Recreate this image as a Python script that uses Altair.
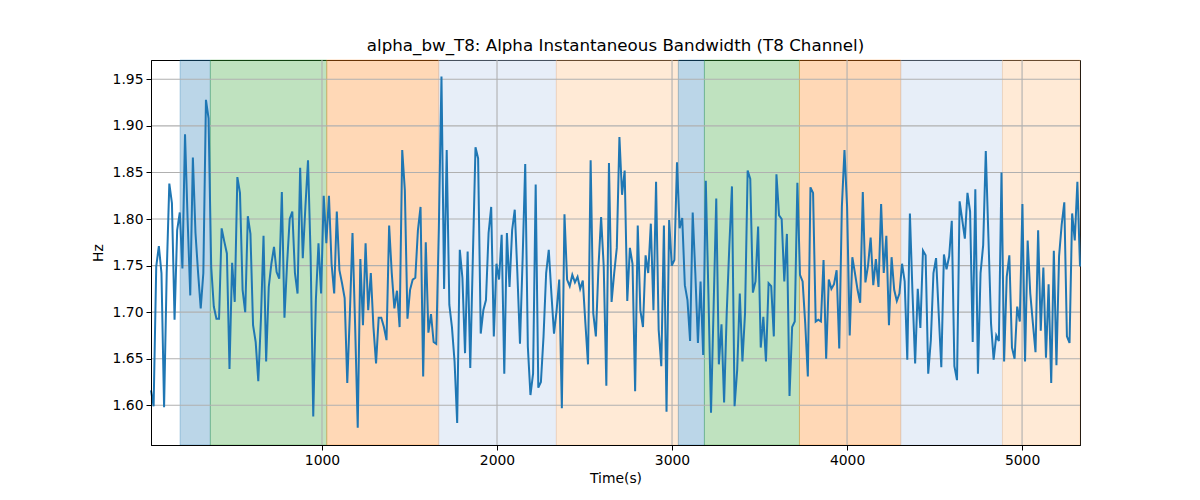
import altair as alt
import pandas as pd

# ---- series values (Hz), in time order ----
values = [
    1.616, 1.599, 1.749, 1.771, 1.742, 1.598, 1.742, 1.838, 1.817, 1.692,
    1.788, 1.807, 1.747, 1.891, 1.799, 1.718, 1.866, 1.785, 1.742, 1.704,
    1.742, 1.928, 1.908, 1.749, 1.706, 1.693, 1.693, 1.790, 1.776, 1.763,
    1.639, 1.753, 1.711, 1.845, 1.828, 1.724, 1.700, 1.803, 1.784, 1.686,
    1.668, 1.626, 1.692, 1.782, 1.647, 1.727,
    1.752, 1.770, 1.743, 1.736, 1.829, 1.694, 1.752, 1.800, 1.808, 1.742,
    1.720, 1.855, 1.758, 1.813, 1.863, 1.760, 1.588, 1.713, 1.774, 1.720,
    1.825, 1.774, 1.825, 1.752, 1.720, 1.808, 1.745, 1.731, 1.715, 1.624,
    1.699, 1.785, 1.686, 1.576, 1.757, 1.686, 1.774, 1.702, 1.742, 1.684,
    1.645, 1.694, 1.694, 1.684, 1.670,
    1.793, 1.742, 1.704, 1.723, 1.684, 1.874, 1.831, 1.693, 1.724, 1.735,
    1.737, 1.788, 1.813, 1.631, 1.775, 1.678, 1.698, 1.668, 1.666, 1.790,
    1.953, 1.725, 1.874, 1.708, 1.684, 1.647, 1.581, 1.767, 1.737, 1.656,
    1.765, 1.640, 1.760, 1.877, 1.865, 1.677, 1.702, 1.713, 1.785, 1.813,
    1.674, 1.752, 1.735, 1.783,
    1.634, 1.785, 1.727, 1.788, 1.810, 1.742, 1.666, 1.756, 1.859, 1.663,
    1.611, 1.634, 1.837, 1.619, 1.625, 1.674, 1.742, 1.767, 1.720, 1.677,
    1.702, 1.735, 1.597, 1.805, 1.735, 1.728, 1.740, 1.732, 1.738, 1.725,
    1.734, 1.688, 1.644, 1.863, 1.699, 1.674, 1.749, 1.802, 1.749, 1.621,
    1.860, 1.711, 1.742, 1.769,
    1.888, 1.826, 1.852, 1.712, 1.769, 1.752, 1.615, 1.793, 1.702, 1.684,
    1.761, 1.742, 1.795, 1.702, 1.840, 1.681, 1.642, 1.793, 1.593, 1.799,
    1.750, 1.756, 1.861, 1.790, 1.801, 1.729, 1.713, 1.669, 1.807, 1.742,
    1.667, 1.733, 1.654, 1.841, 1.720, 1.592, 1.706, 1.822, 1.644, 1.687,
    1.603, 1.699, 1.771, 1.835,
    1.599, 1.638, 1.720, 1.647, 1.699, 1.852, 1.843, 1.721, 1.733, 1.792,
    1.662, 1.695, 1.647, 1.731, 1.728, 1.674, 1.848, 1.804, 1.800, 1.733,
    1.784, 1.610, 1.684, 1.690, 1.839, 1.740, 1.733, 1.688, 1.631, 1.834,
    1.828, 1.690, 1.692, 1.690, 1.756, 1.650, 1.735, 1.725, 1.730, 1.745,
    1.661, 1.813, 1.874, 1.813, 1.675,
    1.759, 1.742, 1.724, 1.710, 1.829, 1.732, 1.750, 1.780, 1.729, 1.757,
    1.727, 1.816, 1.742, 1.782, 1.686, 1.759, 1.724, 1.712, 1.720, 1.752,
    1.733, 1.649, 1.806, 1.720, 1.645, 1.725, 1.683, 1.766, 1.761, 1.634,
    1.670, 1.742, 1.758, 1.699, 1.641, 1.762, 1.746, 1.760, 1.798, 1.642,
    1.627, 1.819, 1.799, 1.779,
    1.828, 1.808, 1.668, 1.832, 1.634, 1.742, 1.772, 1.873, 1.781, 1.688,
    1.649, 1.675, 1.669, 1.850, 1.647, 1.738, 1.761, 1.662, 1.650, 1.706,
    1.690, 1.816, 1.647, 1.777, 1.720, 1.688, 1.657, 1.788, 1.680, 1.748,
    1.651, 1.730, 1.624, 1.766, 1.643, 1.760, 1.794, 1.818, 1.674, 1.667,
    1.806, 1.777, 1.840, 1.749,
]

# sampling times (s): evenly spaced samples between first and last time
t_start = 23.0
t_end = 5331.0
n = len(values)
step = (t_end - t_start) / (n - 1)
times = [t_start + i * step for i in range(n)]

# ---- shaded segments ----
band_start = [189, 362, 1027, 1667, 2339, 3036, 3185, 3728, 4307, 4888]
band_end = [362, 1027, 1667, 2339, 3036, 3185, 3728, 4307, 4888, 5331]
band_kind = ["A", "B", "C", "D", "E", "A", "B", "C", "D", "E"]
kind_names = ["A", "B", "C", "D", "E"]
kind_colors = ["#1f77b4", "#2ca02c", "#ff7f0e", "#aec7e8", "#ffbb78"]

# ---- ticks ----
x_ticks = [1000, 2000, 3000, 4000, 5000]
y_ticks = [1.60, 1.65, 1.70, 1.75, 1.80, 1.85, 1.90, 1.95]

y_min, y_max = 1.5574, 1.9707

line_df = pd.DataFrame({"t": times, "v": values})
band_df = pd.DataFrame({"start": band_start, "end": band_end, "kind": band_kind})
xgrid_df = pd.DataFrame({"t": x_ticks})
ygrid_df = pd.DataFrame({"v": y_ticks})

FONT = "DejaVu Sans"
xscale = alt.Scale(domain=[t_start, t_end], nice=False, zero=False)
yscale = alt.Scale(domain=[y_min, y_max], nice=False, zero=False)

common_axis = dict(
    grid=False, tickSize=5, tickWidth=1, tickColor="black",
    domainColor="black", domainWidth=1, labelColor="black",
    labelFont=FONT, labelFontSize=13.9, titleFont=FONT, titleFontSize=13.9,
    titleFontWeight="normal", titleColor="black", zindex=1,
)
xaxis = alt.Axis(values=x_ticks, format="d", title="Time(s)",
                 labelPadding=3, titlePadding=5, **common_axis)
yaxis = alt.Axis(values=y_ticks, format=".2f", title="Hz",
                 labelPadding=3, titlePadding=7, **common_axis)

bands = alt.Chart(band_df).mark_rect(fillOpacity=0.3, strokeOpacity=0.3, strokeWidth=1).encode(
    x=alt.X("start:Q", scale=xscale, axis=xaxis),
    x2="end:Q",
    color=alt.Color("kind:N", scale=alt.Scale(domain=kind_names, range=kind_colors), legend=None),
    stroke=alt.Stroke("kind:N", scale=alt.Scale(domain=kind_names, range=kind_colors), legend=None),
)

xgrid = alt.Chart(xgrid_df).mark_rule(color="#b0b0b0", strokeWidth=1.1).encode(
    x=alt.X("t:Q", scale=xscale, axis=xaxis),
)
ygrid = alt.Chart(ygrid_df).mark_rule(color="#b0b0b0", strokeWidth=1.1).encode(
    y=alt.Y("v:Q", scale=yscale, axis=yaxis),
)

line = alt.Chart(line_df).mark_line(color="#1f77b4", strokeWidth=2).encode(
    x=alt.X("t:Q", scale=xscale, axis=xaxis),
    y=alt.Y("v:Q", scale=yscale, axis=yaxis),
)

chart = alt.layer(bands, xgrid, ygrid, line).properties(
    width=929,
    height=385,
    autosize=alt.AutoSizeParams(type="none"),
    padding={"left": 143, "top": 52, "right": 112, "bottom": 47},
    title=alt.TitleParams(
        text="alpha_bw_T8: Alpha Instantaneous Bandwidth (T8 Channel)",
        font=FONT, fontSize=16.7, fontWeight="normal", color="black",
        anchor="middle", offset=5,
    ),
).configure_view(stroke="black", strokeWidth=1)

chart.save("out.html", embed_options={"renderer": "svg", "actions": False})
